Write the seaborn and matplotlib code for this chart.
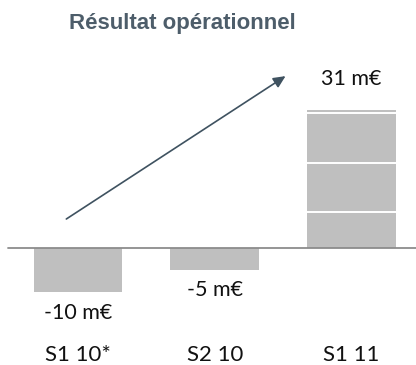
import matplotlib
matplotlib.use("Agg")
import matplotlib.pyplot as plt
import matplotlib.transforms as mtransforms
import seaborn as sns
import pandas as pd

# Operating result per half-year (m€)
periods = ["S1 10*", "S2 10", "S1 11"]
values = [-10, -5, 31]
value_labels = ["-10 m€", "-5 m€", "31 m€"]
title = "Résultat opérationnel"

# white separators across the tallest bar, as fractions of its height
stripe_fracs = [0.978, 0.616, 0.257]

bar_color = "#bfbfbf"
axis_color = "#8c8c8c"
slate = "#4d5d6a"
arrow_color = "#3f5260"

sns.set_theme(style="white")
plt.rcParams["font.family"] = ["Lato", "DejaVu Sans"]

fig = plt.figure(figsize=(4.16, 3.65), dpi=100)
ax = fig.add_axes([0, 0, 1, 1])

df = pd.DataFrame({"period": periods, "value": values})
sns.barplot(data=df, x="period", y="value", color=bar_color, width=0.65,
            saturation=1, edgecolor="none", linewidth=0, ax=ax)

ax.set_xlim(-0.570, 2.472)
ax.set_ylim(-26.3, 55.7)
ax.axis("off")

# baseline
ax.axhline(0, xmin=0.019, xmax=1, color=axis_color, lw=1.3, zorder=3)

# stripes on the tallest bar
top_idx = max(range(len(values)), key=lambda i: values[i])
bar = ax.patches[top_idx]
x0, w = bar.get_x(), bar.get_width()
for f in stripe_fracs:
    ax.plot([x0, x0 + w], [values[top_idx] * f] * 2, color="white", lw=1.4,
            solid_capstyle="butt", zorder=4)

# value labels
for i, (v, lab) in enumerate(zip(values, value_labels)):
    if v >= 0:
        ax.annotate(lab, (i, v), xytext=(0, 22), textcoords="offset points",
                    ha="center", va="center", fontsize=15.5, color="#111111")
    else:
        ax.annotate(lab, (i, v), xytext=(0, -14.5), textcoords="offset points",
                    ha="center", va="center", fontsize=15.5, color="#111111")

# period labels along the bottom
trans = mtransforms.blended_transform_factory(ax.transData, ax.transAxes)
for i, p in enumerate(periods):
    ax.text(i, 1 - 355 / 365, p, transform=trans, ha="center", va="center",
            fontsize=16, color="#111111")

# trend arrow
ax.annotate("", xy=(1.518, 38.6), xytext=(-0.085, 6.5),
            arrowprops=dict(arrowstyle="-|>,head_length=0.6,head_width=0.28",
                            color=arrow_color, lw=1.2, shrinkA=0, shrinkB=0))

fig.text(182 / 416, 1 - 23 / 365, title, ha="center", va="center",
         fontsize=16, fontweight="bold", color=slate,
         family=["Liberation Sans", "DejaVu Sans"])

fig.savefig("out.png", dpi=100)
